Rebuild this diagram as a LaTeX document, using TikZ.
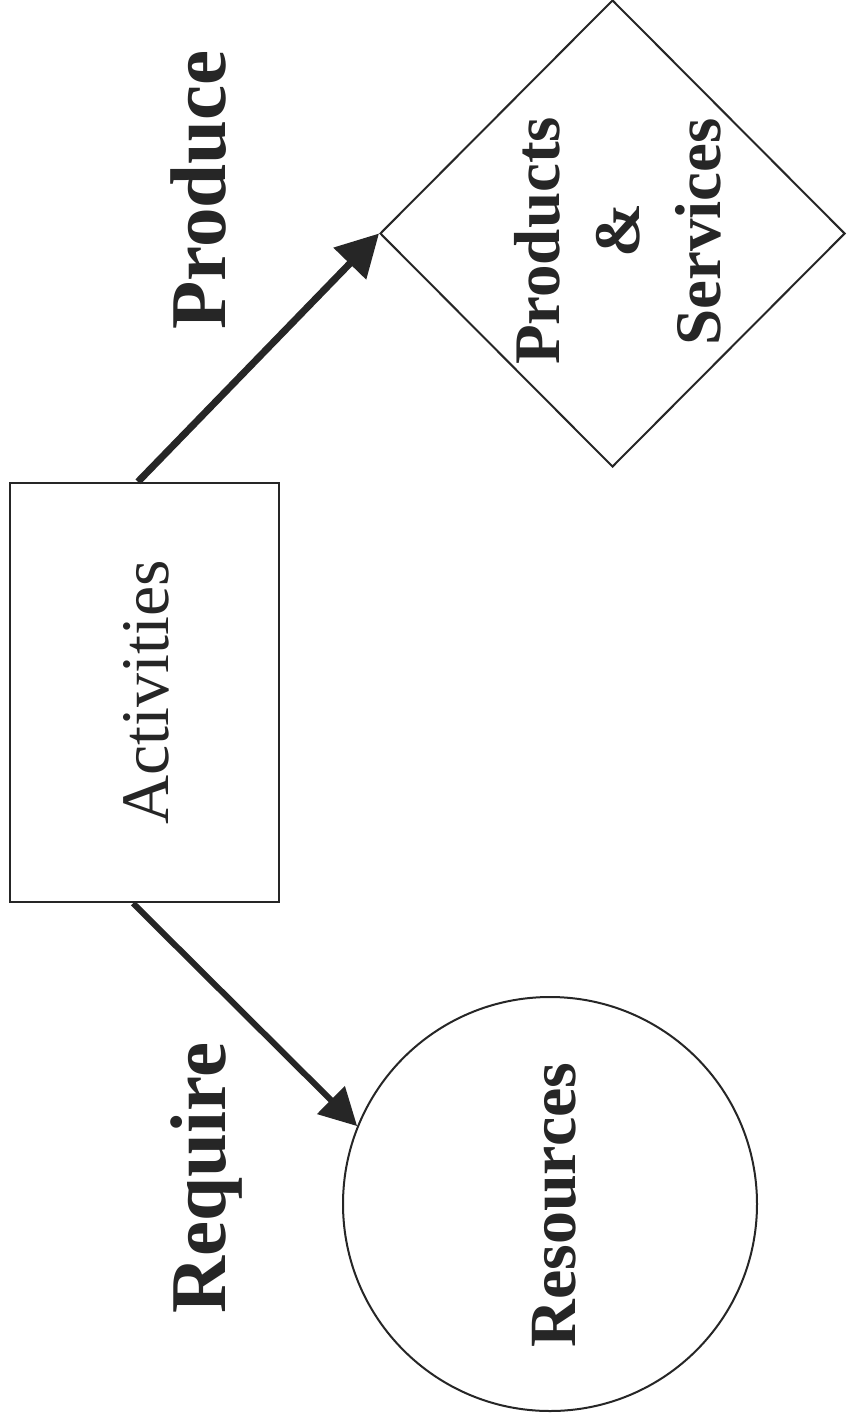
\documentclass[tikz,border=0pt]{standalone}
\usepackage{fontspec}
\setmainfont{Liberation Serif}
\usetikzlibrary{arrows.meta,shapes.geometric,calc}
\definecolor{ink}{gray}{0.15}
\begin{document}
\begin{tikzpicture}[x=1pt,y=-1pt,
  shapeline/.style={draw=ink, line width=2pt, inner sep=0pt},
  lbl/.style={rotate=90, anchor=base, inner sep=0pt, text=ink},
  bigbold/.style={font=\fontsize{79}{80}\selectfont\bfseries},
  midbold/.style={font=\fontsize{65}{66}\selectfont\bfseries},
  flow/.style={draw=ink, line width=7pt},
]
\useasboundingbox[fill=white] (0,0) rectangle (846,1423);
% shapes
\node[shapeline, line width=2.5pt, rectangle, minimum width=269pt, minimum height=419pt] (act) at (144.5,692.5) {};
\node[shapeline, diamond, aspect=1, minimum width=465pt, minimum height=467pt] (prod) at (612.5,233.5) {};
\node[shapeline, circle, minimum size=414pt] (res) at (550,1204) {};
% texts
\node[lbl, font=\fontsize{68}{70}\selectfont] (acttxt) at (168,692.5) {Activities};
\node[lbl, bigbold] (producetxt) at (225,190) {Produce};
\node[lbl, bigbold] (requiretxt) at (225,1178) {Require};
\node[lbl, font=\fontsize{66}{67}\selectfont\bfseries] (restxt) at (575,1205) {Resources};
\node[lbl, midbold] (prodtxt1) at (559,241) {Products};
\node[lbl, midbold] (prodtxt2) at (639,230) {\&};
\node[lbl, midbold] (prodtxt3) at (720,232) {Services};
% connectors
\draw[flow, line width=7pt, -{Triangle[length=42pt,width=44pt]}] ([xshift=-6.5pt]act.north) -- (prod.west);
\draw[flow, line width=6pt, -{Triangle[length=37pt,width=38pt]}] ([xshift=-11.5pt]act.south) -- (res.158);
\end{tikzpicture}
\end{document}
